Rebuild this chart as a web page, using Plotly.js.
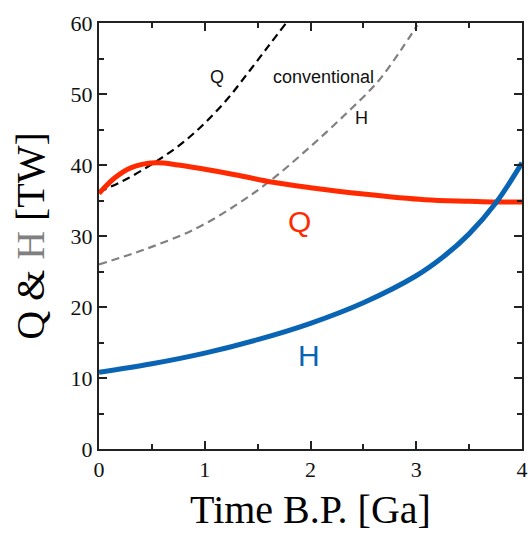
<!DOCTYPE html>
<html><head><meta charset="utf-8">
<script src="https://cdn.plot.ly/plotly-3.0.1.min.js"></script>
<style>body{margin:0;background:#fff}#c{width:528px;height:538px}</style>
</head><body><div id="c"></div>
<script>
const qX = [0, 0.15, 0.3, 0.53, 0.75, 1.0, 1.3, 1.63, 2.0, 2.5, 3.08, 3.5, 3.75, 4.0];
const qY = [36, 38.2, 39.6, 40.3, 40.0, 39.4, 38.6, 37.6, 36.8, 35.9, 35.1, 34.9, 34.8, 34.8];
const hX = [0, 0.5, 1.0, 1.5, 2.0, 2.5, 3.0, 3.25, 3.5, 3.75, 4.0];
const hY = [10.8, 12.0, 13.5, 15.4, 17.7, 20.6, 24.4, 27.0, 30.3, 34.6, 40.3];
const qcX = [0, 0.27, 0.53, 0.78, 1.0, 1.22, 1.41, 1.6, 1.77];
const qcY = [36.2, 38.1, 40.4, 43.0, 45.9, 49.4, 53.0, 56.7, 60];
const hcX = [0, 0.43, 0.91, 1.31, 1.63, 1.97, 2.32, 2.64, 2.86, 3.01];
const hcY = [26.0, 28.1, 31.0, 34.5, 37.9, 42.2, 47.0, 51.8, 56.3, 59.7];

const traces = [
  {x: hcX, y: hcY, mode: 'lines', line: {color: '#808080', width: 2.2, dash: '8px,5px', shape: 'spline'}},
  {x: qcX, y: qcY, mode: 'lines', line: {color: '#000000', width: 2.2, dash: '8px,5px', shape: 'spline'}},
  {x: qX, y: qY, mode: 'lines', line: {color: '#ff2a00', width: 5, shape: 'spline'}},
  {x: hX, y: hY, mode: 'lines', line: {color: '#0a64b4', width: 5, shape: 'spline'}}
];
const serif = 'Liberation Serif, Times New Roman, serif';
const sans = 'Liberation Sans, Arial, sans-serif';
const layout = {
  width: 528, height: 538,
  margin: {l: 99, r: 6, t: 23, b: 89},
  showlegend: false,
  plot_bgcolor: '#fff', paper_bgcolor: '#fff',
  xaxis: {range: [0, 4], tickvals: [0,1,2,3,4], ticks: 'inside', ticklen: 8, tickwidth: 1.5, tickcolor: '#222',
    minor: {tickvals: [0.5,1.5,2.5,3.5], ticks: 'inside', ticklen: 5, tickcolor: '#222'},
    showline: true, linecolor: '#222', linewidth: 2, mirror: 'allticks', showgrid: false, zeroline: false,
    tickfont: {family: serif, size: 22, color: '#111'},
    title: {text: 'Time B.P. [Ga]', font: {family: serif, size: 40, color: '#000'}, standoff: 14}},
  yaxis: {range: [0, 60], tickvals: [0,10,20,30,40,50,60], ticks: 'inside', ticklen: 8, tickwidth: 1.5, tickcolor: '#222',
    minor: {tickvals: [5,15,25,35,45,55], ticks: 'inside', ticklen: 5, tickcolor: '#222'},
    showline: true, linecolor: '#222', linewidth: 2, mirror: 'allticks', showgrid: false, zeroline: false,
    tickfont: {family: serif, size: 22, color: '#111'},
    title: {text: 'Q & <span style="fill:#808080">H</span> [TW]', font: {family: serif, size: 40, color: '#000'}, standoff: 14}},
  annotations: [
    {x: 1.12, y: 52.4, text: 'Q', showarrow: false, font: {family: sans, size: 18, color: '#111'}},
    {x: 2.12, y: 52.4, text: 'conventional', showarrow: false, font: {family: sans, size: 18, color: '#111'}},
    {x: 2.48, y: 46.6, text: 'H', showarrow: false, font: {family: sans, size: 18, color: '#111'}},
    {x: 1.9, y: 32, text: 'Q', showarrow: false, font: {family: sans, size: 30, color: '#ff2a00'}},
    {x: 1.99, y: 13.2, text: 'H', showarrow: false, font: {family: sans, size: 30, color: '#0a64b4'}}
  ]
};
Plotly.newPlot('c', traces, layout, {displayModeBar: false});
</script></body></html>
